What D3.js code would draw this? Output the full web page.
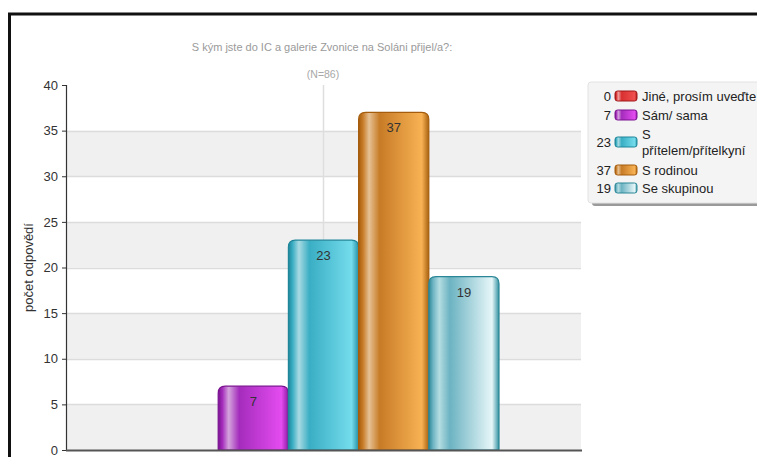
<!DOCTYPE html>
<html>
<head>
<meta charset="utf-8">
<script src="https://cdn.jsdelivr.net/npm/d3@7/dist/d3.min.js"></script>
<style>
  html, body { margin: 0; padding: 0; background: #fff; }
  svg { display: block; font-family: "Liberation Sans", Arial, sans-serif; }
</style>
</head>
<body>
<svg id="chart" width="757" height="457"></svg>
<script>
// Survey answers: who the visitor came with
const categories = ["Jiné, prosím uveďte", "Sám/ sama", "S přítelem/přítelkyní", "S rodinou", "Se skupinou"];
const values = [0, 7, 23, 37, 19];
const legendLines = [["Jiné, prosím uveďte"], ["Sám/ sama"], ["S", "přítelem/přítelkyní"], ["S rodinou"], ["Se skupinou"]];
const yTicks = [0, 5, 10, 15, 20, 25, 30, 35, 40];
const title = "S kým jste do IC a galerie Zvonice na Soláni přijel/a?:";
const subtitle = "(N=86)";
const yLabel = "počet odpovědí";

// Gradient palettes per series: [edge, highlight, body, bright, edge]
const palettes = [
  ["#a01818", "#f0a0a0", "#d83030", "#f05050", "#a01818"],
  ["#7a1290", "#d4a4dc", "#a42cbc", "#e44cf0", "#8a1aa0"],
  ["#1f8599", "#a8dae2", "#3aaec4", "#74dcec", "#2790a4"],
  ["#a55c0c", "#e6c194", "#c77b26", "#f8b254", "#a9620f"],
  ["#2b8797", "#b4dde2", "#6cb3c2", "#e6f6f8", "#3592a2"]
];

const svg = d3.select("#chart");
const defs = svg.append("defs");

palettes.forEach((p, i) => {
  const g = defs.append("linearGradient").attr("id", "grad" + i)
    .attr("x1", "0%").attr("x2", "100%").attr("y1", "0%").attr("y2", "0%");
  [[0, p[0]], [0.06, p[2]], [0.15, p[1]], [0.3, p[2]], [0.9, p[3]], [1, p[4]]]
    .forEach(([o, c]) => g.append("stop").attr("offset", o).attr("stop-color", c));
});

// Frame
svg.append("path")
  .attr("d", "M9.5,457 V14 H757")
  .attr("fill", "none").attr("stroke", "#111").attr("stroke-width", 3);

const plot = { left: 66, right: 581, top: 85, bottom: 450 };

const y = d3.scaleLinear().domain([0, 40]).range([plot.bottom, plot.top]);
const x = d3.scaleBand().domain(categories)
  .range([plot.left, plot.right]).paddingInner(0).paddingOuter(1.168);

// Alternating bands
const bandPairs = d3.pairs(yTicks);
svg.append("g").selectAll("rect").data(bandPairs).join("rect")
  .attr("x", plot.left).attr("width", plot.right - plot.left)
  .attr("y", d => y(d[1])).attr("height", d => y(d[0]) - y(d[1]))
  .attr("fill", (d, i) => i % 2 === 0 ? "#f0f0f0" : "#ffffff");

// Grid lines
svg.append("g").selectAll("line").data(yTicks.filter(t => t > 0 && t < 40)).join("line")
  .attr("x1", plot.left).attr("x2", plot.right)
  .attr("y1", d => Math.round(y(d)) + 0.5).attr("y2", d => Math.round(y(d)) + 0.5)
  .attr("stroke", "#dcdcdc").attr("stroke-width", 1.5);

// Center guide line
const cx = (plot.left + plot.right) / 2;
svg.append("line")
  .attr("x1", cx).attr("x2", cx).attr("y1", plot.top).attr("y2", plot.bottom)
  .attr("stroke", "#dedede").attr("stroke-width", 1.5);

// Titles
svg.append("text").attr("x", 322).attr("y", 51).attr("text-anchor", "middle")
  .attr("font-size", 11).attr("fill", "#9a9a9a").text(title);
svg.append("text").attr("x", 323).attr("y", 78).attr("text-anchor", "middle")
  .attr("font-size", 10.5).attr("fill", "#a8a8a8").text(subtitle);

// Y axis
const yAxis = d3.axisLeft(y).tickValues(yTicks).tickSize(4).tickPadding(4);
const ag = svg.append("g").attr("transform", `translate(${plot.left},0)`).call(yAxis);
ag.select(".domain").attr("stroke", "#333").attr("stroke-width", 1.2);
ag.selectAll(".tick line").attr("stroke", "#333");
ag.selectAll(".tick text").attr("font-size", 13).attr("fill", "#333")
  .attr("font-family", "Liberation Sans, Arial, sans-serif");

svg.append("text")
  .attr("transform", `translate(33,${(plot.top + plot.bottom) / 2}) rotate(-90)`)
  .attr("text-anchor", "middle").attr("font-size", 13).attr("fill", "#333").text(yLabel);

// Bars with rounded tops
function barPath(x0, w, top, bottom, r) {
  r = Math.min(r, (bottom - top));
  return `M${x0},${bottom} V${top + r} Q${x0},${top} ${x0 + r},${top} H${x0 + w - r} Q${x0 + w},${top} ${x0 + w},${top + r} V${bottom} Z`;
}

const data = categories.map((c, i) => ({ c, v: values[i], i }));
const bars = svg.append("g").selectAll("g").data(data.filter(d => d.v > 0)).join("g");
bars.append("path")
  .attr("d", d => barPath(x(d.c), x.bandwidth(), y(d.v), plot.bottom, 7))
  .attr("fill", d => `url(#grad${d.i})`)
  .attr("stroke", d => palettes[d.i][0]).attr("stroke-width", 1.2);
bars.append("text")
  .attr("x", d => x(d.c) + x.bandwidth() / 2)
  .attr("y", d => y(d.v) + 20)
  .attr("text-anchor", "middle").attr("font-size", 13).attr("fill", "#333")
  .text(d => d.v);

// Bottom axis line
svg.append("line")
  .attr("x1", plot.left).attr("x2", plot.right + 1)
  .attr("y1", plot.bottom + 0.5).attr("y2", plot.bottom + 0.5)
  .attr("stroke", "#555").attr("stroke-width", 2);

// Legend
const lg = svg.append("g");
lg.append("rect").attr("x", 592).attr("y", 85).attr("width", 175).attr("height", 121)
  .attr("fill", "#9a9a9a").attr("rx", 3);
lg.append("rect").attr("x", 588).attr("y", 82).attr("width", 175).attr("height", 121)
  .attr("fill", "#f4f4f4").attr("stroke", "#e2e2e2").attr("rx", 3);

const rowY = [96, 115, 142, 170, 188];
const legRows = lg.selectAll("g.row").data(data).join("g").attr("class", "row");
legRows.append("text").attr("x", 611).attr("y", (d, i) => rowY[i] + 4.5)
  .attr("text-anchor", "end").attr("font-size", 13).attr("fill", "#222").text(d => d.v);
legRows.append("rect")
  .attr("x", 615).attr("y", (d, i) => rowY[i] - 5).attr("width", 22).attr("height", 10)
  .attr("rx", 2.5).attr("fill", d => `url(#grad${d.i})`)
  .attr("stroke", d => palettes[d.i][0]).attr("stroke-width", 1);
legRows.each(function (d, i) {
  const lines = legendLines[i];
  const t = d3.select(this).append("text").attr("font-size", 13).attr("fill", "#222");
  lines.forEach((ln, k) => {
    t.append("tspan").attr("x", 642)
      .attr("y", rowY[i] + 4.5 + (k - (lines.length - 1) / 2) * 16).text(ln);
  });
});
</script>
</body>
</html>
